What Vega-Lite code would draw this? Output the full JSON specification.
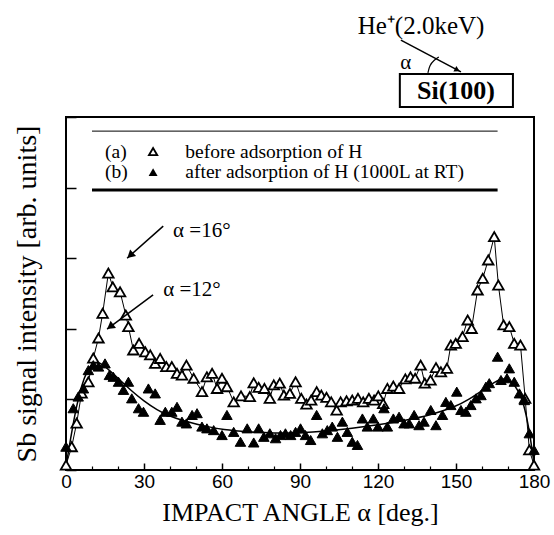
{
  "$schema": "https://vega.github.io/schema/vega-lite/v6.json",
  "width": 468,
  "height": 353,
  "autosize": {"type": "none"},
  "padding": {"left": 66, "top": 117, "right": 20, "bottom": 65},
  "background": "white",
  "config": {
    "view": {"stroke": "black", "strokeWidth": 2},
    "font": "Liberation Serif"
  },
  "resolve": {"axis": {"x": "independent"}},
  "datasets": {
    "a": [
      {"x":0.0,"y":0.14},{"x":2.2,"y":0.66},{"x":4.1,"y":1.33},{"x":6.0,"y":2.18},{"x":8.6,"y":2.5},{"x":10.5,"y":3.17},{"x":12.5,"y":3.74},{"x":14.1,"y":4.44},{"x":16.3,"y":5.58},{"x":18.0,"y":5.19},{"x":20.8,"y":5.05},{"x":23.0,"y":4.39},{"x":24.0,"y":4.06},{"x":25.9,"y":3.40},{"x":28.1,"y":3.59},{"x":30.5,"y":3.35},{"x":32.4,"y":3.26},{"x":34.3,"y":3.02},{"x":36.2,"y":3.16},{"x":38.6,"y":2.93},{"x":40.7,"y":2.93},{"x":42.7,"y":2.74},{"x":44.6,"y":2.69},{"x":46.3,"y":2.97},{"x":49.1,"y":2.60},{"x":52.3,"y":2.22},{"x":54.2,"y":2.64},{"x":56.2,"y":2.74},{"x":58.1,"y":2.31},{"x":60.0,"y":2.60},{"x":61.9,"y":2.36},{"x":64.5,"y":1.93},{"x":67.3,"y":2.10},{"x":70.7,"y":2.08},{"x":72.2,"y":2.47},{"x":74.1,"y":2.34},{"x":76.3,"y":2.31},{"x":78.4,"y":2.03},{"x":79.9,"y":2.41},{"x":82.2,"y":2.46},{"x":83.8,"y":2.12},{"x":86.1,"y":2.17},{"x":88.3,"y":2.50},{"x":90.5,"y":2.03},{"x":92.5,"y":1.87},{"x":94.3,"y":1.98},{"x":96.4,"y":2.22},{"x":98.2,"y":2.12},{"x":100.2,"y":2.06},{"x":102.0,"y":1.93},{"x":104.1,"y":1.70},{"x":105.6,"y":1.93},{"x":107.9,"y":1.96},{"x":110.1,"y":1.98},{"x":112.3,"y":2.03},{"x":114.3,"y":1.93},{"x":116.5,"y":2.03},{"x":118.5,"y":1.98},{"x":120.1,"y":2.10},{"x":122.0,"y":1.88},{"x":123.6,"y":2.31},{"x":125.9,"y":2.38},{"x":128.1,"y":2.31},{"x":130.5,"y":2.58},{"x":132.5,"y":2.64},{"x":134.3,"y":2.60},{"x":136.4,"y":2.97},{"x":138.0,"y":2.46},{"x":140.2,"y":2.55},{"x":142.3,"y":2.90},{"x":144.2,"y":2.78},{"x":146.5,"y":2.88},{"x":148.0,"y":3.54},{"x":149.9,"y":3.59},{"x":152.5,"y":3.78},{"x":154.5,"y":4.25},{"x":156.0,"y":4.01},{"x":158.3,"y":5.10},{"x":160.3,"y":5.43},{"x":162.4,"y":5.95},{"x":164.7,"y":6.61},{"x":166.3,"y":5.24},{"x":168.3,"y":4.11},{"x":170.5,"y":4.06},{"x":172.4,"y":3.59},{"x":174.8,"y":3.54},{"x":176.6,"y":2.03},{"x":178.2,"y":0.57},{"x":180.0,"y":0.14}
    ],
    "b": [
      {"x":0.0,"y":0.66},{"x":2.8,"y":1.75},{"x":4.7,"y":2.08},{"x":6.7,"y":2.31},{"x":8.6,"y":2.83},{"x":10.5,"y":2.97},{"x":12.5,"y":2.93},{"x":15.0,"y":3.02},{"x":16.7,"y":2.69},{"x":18.2,"y":2.64},{"x":20.2,"y":2.50},{"x":22.1,"y":2.27},{"x":24.0,"y":2.50},{"x":25.3,"y":2.03},{"x":27.9,"y":1.75},{"x":29.8,"y":1.65},{"x":31.7,"y":2.31},{"x":34.3,"y":2.17},{"x":36.2,"y":1.42},{"x":38.2,"y":1.65},{"x":40.7,"y":1.65},{"x":42.7,"y":1.79},{"x":44.6,"y":1.37},{"x":46.3,"y":1.32},{"x":48.5,"y":1.56},{"x":50.4,"y":1.61},{"x":52.3,"y":1.23},{"x":54.2,"y":1.18},{"x":56.8,"y":1.13},{"x":60.0,"y":0.99},{"x":61.9,"y":1.56},{"x":64.5,"y":1.08},{"x":67.1,"y":0.80},{"x":69.7,"y":1.18},{"x":72.2,"y":0.78},{"x":74.1,"y":1.18},{"x":76.1,"y":0.94},{"x":78.4,"y":1.04},{"x":80.6,"y":0.90},{"x":82.5,"y":0.99},{"x":84.4,"y":1.04},{"x":86.4,"y":0.99},{"x":88.3,"y":1.08},{"x":90.2,"y":1.18},{"x":92.1,"y":0.99},{"x":94.1,"y":0.85},{"x":96.4,"y":1.56},{"x":98.6,"y":1.04},{"x":100.5,"y":1.13},{"x":102.4,"y":1.23},{"x":104.4,"y":0.94},{"x":106.3,"y":1.37},{"x":108.2,"y":1.08},{"x":110.1,"y":0.80},{"x":112.1,"y":0.71},{"x":114.0,"y":1.46},{"x":115.9,"y":1.23},{"x":118.2,"y":1.46},{"x":120.0,"y":1.23},{"x":122.3,"y":1.75},{"x":123.6,"y":1.23},{"x":125.9,"y":1.46},{"x":128.1,"y":1.51},{"x":130.0,"y":1.32},{"x":132.0,"y":1.32},{"x":133.9,"y":1.56},{"x":135.8,"y":1.27},{"x":137.7,"y":1.37},{"x":140.3,"y":1.70},{"x":142.3,"y":1.27},{"x":144.8,"y":1.56},{"x":146.1,"y":1.93},{"x":148.0,"y":1.84},{"x":150.3,"y":2.22},{"x":151.9,"y":1.70},{"x":153.8,"y":1.65},{"x":155.7,"y":1.84},{"x":157.7,"y":2.03},{"x":159.6,"y":2.12},{"x":161.5,"y":2.36},{"x":162.8,"y":2.46},{"x":166.0,"y":3.21},{"x":167.3,"y":2.55},{"x":169.6,"y":2.60},{"x":170.5,"y":2.88},{"x":172.4,"y":2.50},{"x":174.4,"y":2.17},{"x":176.3,"y":1.98},{"x":178.2,"y":1.04},{"x":180.0,"y":0.57}
    ],
    "fit": [
      {"x":0,"y":0.1},{"x":2,"y":1.0},{"x":4,"y":1.8},{"x":6,"y":2.4},{"x":8,"y":2.8},{"x":10,"y":3.0},{"x":12,"y":3.07},{"x":14,"y":3.0},{"x":17,"y":2.8},{"x":20,"y":2.6},{"x":25,"y":2.25},{"x":30,"y":1.95},{"x":35,"y":1.7},{"x":40,"y":1.52},{"x":45,"y":1.4},{"x":50,"y":1.3},{"x":55,"y":1.22},{"x":60,"y":1.15},{"x":70,"y":1.08},{"x":80,"y":1.04},{"x":90,"y":1.05},{"x":100,"y":1.1},{"x":110,"y":1.18},{"x":120,"y":1.28},{"x":130,"y":1.4},{"x":140,"y":1.55},{"x":150,"y":1.8},{"x":155,"y":2.0},{"x":160,"y":2.25},{"x":165,"y":2.5},{"x":168,"y":2.6},{"x":171,"y":2.55},{"x":174,"y":2.25},{"x":176,"y":1.9},{"x":178,"y":1.2},{"x":179,"y":0.7},{"x":180,"y":0.2}
    ],
    "legendText": [
      {"t":"(a)","x":15.0,"y":9.02},{"t":"(b)","x":15.0,"y":8.44},
      {"t":"before adsorption of H","x":45.9,"y":9.02},
      {"t":"after adsorption of H (1000L at RT)","x":45.9,"y":8.44}
    ],
    "legendOpen": [{"x":33.5,"y":9.02}],
    "legendFilled": [{"x":33.5,"y":8.44}],
    "frameTop": [{"x":10.0,"x2":166.0,"y":9.60}],
    "frameBottom": [{"x":10.0,"x2":166.0,"y":7.93}],
    "notes": [{"t":"α =16°","x":41.2,"y":6.77},{"t":"α =12°","x":37.4,"y":5.10}],
    "arrows": [
      {"x":37.4,"y":6.91,"x2":23.5,"y2":6.0},
      {"x":33.5,"y":4.96,"x2":15.8,"y2":3.99},
      {"x":128.8,"y":12.18,"x2":151.9,"y2":11.28}
    ],
    "head16": [{"x":24.7,"y":6.08}],
    "head12": [{"x":17.0,"y":4.06}],
    "headIn": [{"x":150.5,"y":11.33}],
    "arc": [{"x":139.2,"y":11.25},{"x":139.9,"y":11.47},{"x":141.5,"y":11.61},{"x":143.4,"y":11.70}],
    "box": [{"x":128.4,"x2":171.9,"y":11.22,"y2":10.28}],
    "insetText": [{"t":"He⁺(2.0keV)","x":112.2,"y":12.58}],
    "alphaText": [{"t":"α","x":130.7,"y":11.53}],
    "siText": [{"t":"Si(100)","x":150.0,"y":10.74}]
  },
  "encoding": {
    "x": {"field": "x", "type": "quantitative", "axis": null},
    "y": {"field": "y", "type": "quantitative"}
  },
  "layer": [
    {
      "data": {"name": "a"},
      "mark": {"type": "line", "color": "black", "strokeWidth": 1},
      "encoding": {
        "x": {"field": "x", "type": "quantitative",
          "scale": {"domain": [0, 180], "nice": false, "zero": false},
          "axis": {
            "orient": "bottom",
            "values": [0,30,60,90,120,150,180],
            "labelOverlap": false,
            "tickSize": -7,
            "tickColor": "black", "tickWidth": 1.5,
            "domain": false, "grid": false,
            "labelFont": "Liberation Sans", "labelFontSize": 19, "labelColor": "black",
            "labelPadding": 9, "labelFlush": false,
            "title": "IMPACT ANGLE  α [deg.]", "titleFont": "Liberation Serif",
            "titleFontSize": 26, "titleFontWeight": "normal", "titleColor": "black",
            "titlePadding": 8
          }},
        "y": {"field": "y", "type": "quantitative",
          "scale": {"domain": [0, 10], "nice": false},
          "axis": {
            "values": [0,1,2,3,4,5,6,7,8,9,10],
            "labels": false,
            "tickSize": {"condition": {"test": "datum.value % 2 === 0", "value": -10}, "value": -5},
            "tickColor": "black", "tickWidth": 1.5,
            "domain": false, "grid": false,
            "title": "Sb signal intensity [arb. units]", "titleFont": "Liberation Serif",
            "titleFontSize": 28, "titleFontWeight": "normal", "titleColor": "black",
            "titlePadding": 24
          }}
      }
    },
    {
      "data": {"name": "fit"},
      "mark": {"type": "line", "color": "black", "strokeWidth": 1.5, "interpolate": "basis"},
      "encoding": {
        "x": {"field": "x", "type": "quantitative",
          "axis": {
            "orient": "bottom",
            "values": [10,20,40,50,70,80,100,110,130,140,160,170],
            "labels": false, "title": null,
            "tickSize": -4, "tickColor": "black", "tickWidth": 1.2,
            "domain": false, "grid": false
          }}
      }
    },
    {
      "data": {"name": "a"},
      "mark": {"type": "point", "shape": "triangle-up", "filled": true, "fill": "white", "stroke": "black", "strokeWidth": 1.8, "size": 110, "opacity": 1}
    },
    {
      "data": {"name": "b"},
      "mark": {"type": "point", "shape": "triangle-up", "filled": true, "fill": "black", "stroke": "black", "strokeWidth": 1, "size": 110, "opacity": 1}
    },
    {
      "data": {"name": "frameTop"},
      "mark": {"type": "rule", "color": "black", "strokeWidth": 1},
      "encoding": {"x2": {"field": "x2"}}
    },
    {
      "data": {"name": "frameBottom"},
      "mark": {"type": "rule", "color": "black", "strokeWidth": 3},
      "encoding": {"x2": {"field": "x2"}}
    },
    {
      "data": {"name": "legendText"},
      "mark": {"type": "text", "align": "left", "baseline": "middle", "fontSize": 19.5, "font": "Liberation Serif", "color": "black"},
      "encoding": {"text": {"field": "t"}}
    },
    {
      "data": {"name": "legendOpen"},
      "mark": {"type": "point", "shape": "triangle-up", "filled": true, "fill": "white", "stroke": "black", "strokeWidth": 1.8, "size": 70, "opacity": 1}
    },
    {
      "data": {"name": "legendFilled"},
      "mark": {"type": "point", "shape": "triangle-up", "filled": true, "fill": "black", "size": 80, "opacity": 1}
    },
    {
      "data": {"name": "notes"},
      "mark": {"type": "text", "align": "left", "baseline": "middle", "fontSize": 21, "font": "Liberation Serif", "color": "black"},
      "encoding": {"text": {"field": "t"}}
    },
    {
      "data": {"name": "arrows"},
      "mark": {"type": "rule", "color": "black", "strokeWidth": 1.5},
      "encoding": {"x2": {"field": "x2"}, "y2": {"field": "y2"}}
    },
    {
      "data": {"name": "head16"},
      "mark": {"type": "point", "shape": "triangle-right", "filled": true, "fill": "black", "size": 80, "angle": 138, "opacity": 1}
    },
    {
      "data": {"name": "head12"},
      "mark": {"type": "point", "shape": "triangle-right", "filled": true, "fill": "black", "size": 80, "angle": 143, "opacity": 1}
    },
    {
      "data": {"name": "headIn"},
      "mark": {"type": "point", "shape": "triangle-right", "filled": true, "fill": "black", "size": 40, "angle": 28, "opacity": 1}
    },
    {
      "data": {"name": "arc"},
      "mark": {"type": "line", "color": "black", "strokeWidth": 1.2, "interpolate": "basis"}
    },
    {
      "data": {"name": "box"},
      "mark": {"type": "rect", "fill": "white", "stroke": "black", "strokeWidth": 2},
      "encoding": {"x2": {"field": "x2"}, "y2": {"field": "y2"}}
    },
    {
      "data": {"name": "insetText"},
      "mark": {"type": "text", "align": "left", "baseline": "middle", "fontSize": 25, "font": "Liberation Serif", "color": "black"},
      "encoding": {"text": {"field": "t"}}
    },
    {
      "data": {"name": "alphaText"},
      "mark": {"type": "text", "align": "center", "baseline": "middle", "fontSize": 21, "font": "Liberation Serif", "color": "black"},
      "encoding": {"text": {"field": "t"}}
    },
    {
      "data": {"name": "siText"},
      "mark": {"type": "text", "align": "center", "baseline": "middle", "fontSize": 26, "fontWeight": "bold", "font": "Liberation Serif", "color": "black"},
      "encoding": {"text": {"field": "t"}}
    }
  ]
}
